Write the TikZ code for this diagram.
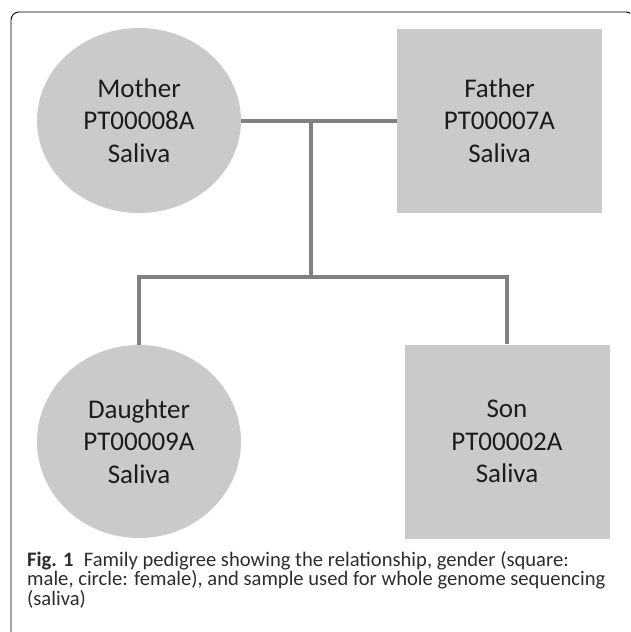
\documentclass[tikz,border=0pt]{standalone}
\usepackage{fontspec}
\setmainfont{Carlito}
\usetikzlibrary{positioning, shapes.geometric}

\definecolor{shade}{RGB}{202,202,202}
\definecolor{link}{RGB}{128,128,128}
\definecolor{ink}{RGB}{28,28,28}
\definecolor{capink}{RGB}{45,45,45}

\tikzset{
  person/.style={fill=shade, inner sep=0pt, align=center, text=ink,
    font=\fontsize{27}{32.5}\selectfont},
  female/.style={person, ellipse, minimum width=204pt},
  male/.style={person, rectangle, minimum width=205pt},
  line/.style={draw=link, line width=4pt},
  caption/.style={align=left, inner sep=0pt, text=capink,
    font=\fontsize{20.6}{19.5}\selectfont}
}

\begin{document}
\begin{tikzpicture}[x=1pt, y=-1pt, node distance=2cm, on grid]
   \clip (0,0) rectangle (630,632);
   % Frame
   \draw[line width=0.9pt, rounded corners=8pt] (11,12) rectangle (634,640);

   % Parents
   \node[female, minimum height=185pt] (mother) at (139,120.5) {Mother\\PT00008A\\Saliva};
   \node[male, minimum height=184pt] (father) [right=360.5pt of mother] {Father\\PT00007A\\Saliva};

   % Children
   \node[female, minimum height=193pt] (daughter) [below=321pt of mother] {Daughter\\PT00009A\\Saliva};
   \node[male, minimum height=194pt] (son) [right=368pt of daughter] {Son\\PT00002A\\Saliva};

   % Lines
   \coordinate (mid) at (311,120.5);
   \coordinate (sib) at (311,277);
   \draw[line] (mother) -- (father);
   \draw[line] (mid) -- (sib);
   \draw[line] (daughter) |- (sib) -| (son);

   % Caption
   \node[caption, anchor=north west] (cap) at (27,551)
     {\textbf{Fig. 1}\hspace{0.5em}Family pedigree showing the relationship, gender (square:\\
      male, circle: female), and sample used for whole genome sequencing\\
      (saliva)};
\end{tikzpicture}
\end{document}
